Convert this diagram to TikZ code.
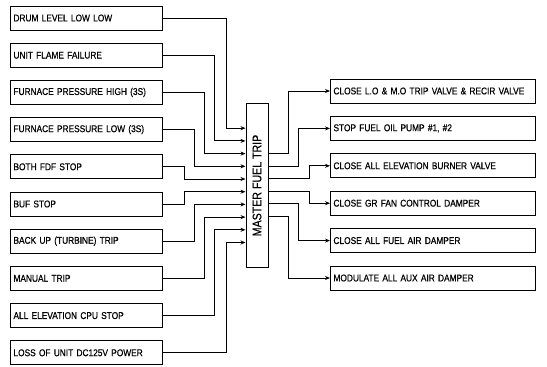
\documentclass[tikz,border=0pt]{standalone}
\usepackage{fontspec}
\setsansfont{Liberation Sans}[FakeStretch=0.85,FakeBold=0.6]
\usetikzlibrary{arrows.meta,calc}
\tikzset{
  cause/.style={draw, line width=1pt, anchor=west, text width=146pt, inner xsep=3pt,
    inner ysep=0pt, minimum height=24pt, font=\sffamily\fontsize{9.8}{10}\selectfont},
  action/.style={cause, text width=199pt},
  arr/.style={-{Stealth[length=5pt,width=4pt]}, line width=0.9pt},
}
\begin{document}
\begin{tikzpicture}[x=1pt,y=-1pt]
\useasboundingbox (0,0) rectangle (547,367);
% trip conditions
\node[cause] (drum)   at (10,18)    {DRUM LEVEL LOW LOW};
\node[cause] (flame)  at (10,55.2)  {UNIT FLAME FAILURE};
\node[cause] (fhigh)  at (10,92.4)  {FURNACE PRESSURE HIGH (3S)};
\node[cause] (flow)   at (10,129.6) {FURNACE PRESSURE LOW (3S)};
\node[cause] (fdf)    at (10,166.8) {BOTH FDF STOP};
\node[cause] (buf)    at (10,204)   {BUF STOP};
\node[cause] (backup) at (10,241.2) {BACK UP (TURBINE) TRIP};
\node[cause] (manual) at (10,278.4) {MANUAL TRIP};
\node[cause] (cpu)    at (10,315.6) {ALL ELEVATION CPU STOP};
\node[cause] (dcpow)  at (10,352.8) {LOSS OF UNIT DC125V POWER};
% master fuel trip
\node[draw, line width=1pt, rotate=90, minimum width=164pt, minimum height=22pt,
  inner sep=0pt, font=\sffamily\fontsize{12.5}{13}\selectfont] (mft) at (257,185.5) {MASTER FUEL TRIP};
\foreach \i in {0,...,9}
  \coordinate (in\i) at ($(mft.north)+(0,-57.3+12.7*\i)$);
\foreach \j in {0,...,5}
  \coordinate (out\j) at ($(mft.south)+(0,-32+12.6*\j)$);
% actions
\node[action] (lomo)    at (330,91)    {CLOSE L.O \& M.O TRIP VALVE \& RECIR VALVE};
\node[action] (fopump)  at (330,128.4) {STOP FUEL OIL PUMP \#1, \#2};
\node[action] (burner)  at (330,165.8) {CLOSE ALL ELEVATION BURNER VALVE};
\node[action] (grfan)   at (330,203.2) {CLOSE GR FAN CONTROL DAMPER};
\node[action] (fuelair) at (330,240.6) {CLOSE ALL FUEL AIR DAMPER};
\node[action] (auxair)  at (330,278)   {MODULATE ALL AUX AIR DAMPER};
% inputs
\draw[arr] (drum.east)   -- ++(63,0) |- (in0);
\draw[arr] (flame.east)  -- ++(51,0) |- (in1);
\draw[arr] (fhigh.east)  -- ++(41,0) |- (in2);
\draw[arr] (flow.east)   -- ++(31,0) |- (in3);
\draw[arr] (fdf.east)    -- ++(21,0) |- (in4);
\draw[arr] (buf.east)    -- ++(21,0) |- (in5);
\draw[arr] (backup.east) -- ++(31,0) |- (in6);
\draw[arr] (manual.east) -- ++(41,0) |- (in7);
\draw[arr] (cpu.east)    -- ++(51,0) |- (in8);
\draw[arr] (dcpow.east)  -- ++(63,0) |- (in9);
% outputs
\draw[arr] (out0) -- ++(20,0) |- (lomo.west);
\draw[arr] (out1) -- ++(30,0) |- (fopump.west);
\draw[arr] (out2) -- ++(41,0) |- (burner.west);
\draw[arr] (out3) -- ++(41,0) |- (grfan.west);
\draw[arr] (out4) -- ++(30,0) |- (fuelair.west);
\draw[arr] (out5) -- ++(20,0) |- (auxair.west);
\end{tikzpicture}
\end{document}
